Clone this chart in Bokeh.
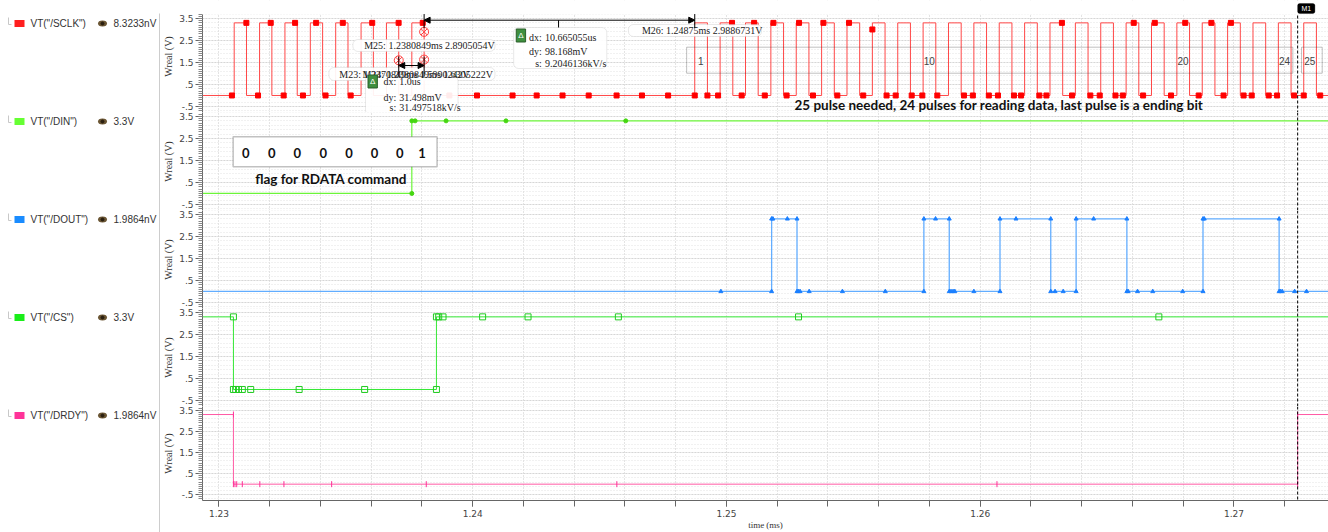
import numpy as np
from bokeh.plotting import figure
from bokeh.layouts import row, column
from bokeh.models import FixedTicker, Span, Label, BoxAnnotation, Arrow, NormalHead, Range1d
from bokeh.embed import file_html
from bokeh.resources import INLINE
from bokeh.core.properties import value

# ---------------- data ----------------
signal_names = ['VT("/SCLK")', 'VT("/DIN")', 'VT("/DOUT")', 'VT("/CS")', 'VT("/DRDY")']
cursor_readouts = ["8.3233nV", "3.3V", "1.9864nV", "3.3V", "1.9864nV"]
legend_colors = ["#ff1f1f", "#66ff33", "#1a8cff", "#19ee19", "#ff3399"]

y_ticks = [-0.5, 0.5, 1.5, 2.5, 3.5]
y_tick_labels = ["-.5", ".5", "1.5", "2.5", "3.5"]
x_ticks = [1.23, 1.24, 1.25, 1.26, 1.27]
x_tick_labels = ["1.23", "1.24", "1.25", "1.26", "1.27"]

v_low = 0.0
v_high = 3.3

# SCLK edges (ms)
sclk_rise = [1.2306, 1.2316, 1.2326, 1.2336, 1.2346, 1.2356, 1.2366, 1.2376,
             1.24875, 1.24975, 1.25075, 1.25175, 1.25275, 1.25375, 1.25475, 1.25575,
             1.25675, 1.25775, 1.25875, 1.25975, 1.26075, 1.26175, 1.26275, 1.26375,
             1.26475, 1.26575, 1.26675, 1.26775, 1.26875, 1.26975, 1.27075, 1.27175, 1.27275]
sclk_fall = [1.231085, 1.232085, 1.233085, 1.234085, 1.235085, 1.236085, 1.237085, 1.238085,
             1.24925, 1.25025, 1.25125, 1.25225, 1.25325, 1.25425, 1.25525, 1.25625,
             1.25725, 1.25825, 1.25925, 1.26025, 1.26125, 1.26225, 1.26325, 1.26425,
             1.26525, 1.26625, 1.26725, 1.26825, 1.26925, 1.27025, 1.27125, 1.27225, 1.27325]
sclk_low_pts = [1.23051, 1.23154, 1.23255, 1.23331, 1.23420, 1.23519,
                1.23908, 1.24017, 1.24157, 1.24252, 1.24354, 1.24457, 1.24567, 1.24667, 1.24770,
                1.24875, 1.24925, 1.24967, 1.25060, 1.25151, 1.25237, 1.25341, 1.25437, 1.25539,
                1.25631, 1.25667, 1.25730, 1.25772, 1.25831, 1.25936, 1.25971, 1.26034, 1.26070,
                1.26133, 1.26161, 1.26233, 1.26261, 1.26362, 1.26434, 1.26471, 1.26533, 1.26562,
                1.26642, 1.26752, 1.26861, 1.26959, 1.27038, 1.27070, 1.27137, 1.27170, 1.27237,
                1.27275, 1.27340]
sclk_high_pts = [1.23108, 1.23204, 1.23300, 1.23383, 1.23488, 1.23604, 1.23708, 1.23803,
                 1.25022, 1.25109, 1.25185, 1.25286, 1.25382, 1.25483, 1.26322, 1.26605,
                 1.26688, 1.26808, 1.26911, 1.26988]
sclk_mid_pts_t = [1.25575]
sclk_mid_pts_v = [3.0]

din_init = v_low
din_toggles = [1.2376]
din_low_pts = [1.2376]
din_high_pts = [1.2376, 1.23773, 1.23895, 1.24131, 1.24603]

dout_init = v_low
dout_toggles = [1.25178, 1.25278, 1.25778, 1.25878, 1.26078, 1.26278, 1.26378, 1.26578, 1.26878, 1.27178]
dout_low_pts = [1.24978, 1.25178, 1.25278, 1.25283, 1.25290, 1.25326, 1.25457, 1.25626, 1.25778,
                1.25878, 1.25885, 1.25893, 1.25900, 1.25975, 1.26078, 1.26278, 1.26295, 1.26327,
                1.26378, 1.26578, 1.26583, 1.26620, 1.26680, 1.26798, 1.26878, 1.27178, 1.27183,
                1.27190, 1.27239, 1.27286]
dout_high_pts = [1.25178, 1.25183, 1.25240, 1.25278, 1.25778, 1.25824, 1.25878, 1.26078, 1.26141,
                 1.26278, 1.26378, 1.26447, 1.26578, 1.26878, 1.26883, 1.27178]

cs_init = v_high
cs_toggles = [1.23057, 1.23857]
cs_low_pts = [1.23057, 1.23066, 1.23077, 1.23092, 1.23125, 1.23316, 1.23574, 1.23857]
cs_high_pts = [1.23057, 1.23857, 1.23866, 1.23883, 1.24039, 1.24218, 1.24574, 1.25284, 1.26704]

drdy_init = v_high
drdy_toggles = [1.23057, 1.27251]
drdy_low_pts = [1.23057, 1.23063, 1.23070, 1.23092, 1.23161, 1.23256, 1.23444, 1.23817,
                1.24568, 1.26066, 1.27251]
drdy_high_pts = [1.23057, 1.27251]

cursor_time = 1.27251

marker_names = ["M23", "M24", "M25", "M26"]
marker_t = [1.2370849, 1.2380849, 1.2380849, 1.24875]
marker_v = ["1.5990242", "1.6305222", "2.8905054", "2.9886731"]

delta_small = ["1.0us", "31.498mV", "31.497518kV/s"]
delta_big = ["10.665055us", "98.168mV", "9.2046136kV/s"]

command_bits = ["0", "0", "0", "0", "0", "0", "0", "1"]
command_bit_t = [1.231054, 1.232077, 1.233088, 1.234111, 1.235122, 1.236129, 1.237128, 1.238006]
pulse_numbers = [1, 10, 20, 24, 25]

# ---------------- layout constants ----------------
T0, T1 = 1.229351, 1.273726
Y0, Y1 = -0.774, 3.68
TOP_PAD = 14
Y1_TOP = Y1 + TOP_PAD / 22.0
PANEL_W = 1168
FRAME_H = 98
SERIF = "Liberation Serif"
SANS = "Liberation Sans"

minor_y = [round(-0.7 + 0.1 * i, 1) for i in range(45)]
grid_minor_y = [round(-0.7 + 0.2 * i, 1) for i in range(23)]
grid_x = [round(1.228 + 0.002 * i, 3) for i in range(24)]

x_range = Range1d(T0, T1)


def step(init, toggles, t0, t1):
    xs, ys = [t0], [init]
    lvl = init
    for t in toggles:
        nl = v_high if lvl == v_low else v_low
        xs += [t, t]
        ys += [lvl, nl]
        lvl = nl
    xs.append(t1)
    ys.append(lvl)
    return xs, ys


def make_panel(extra_top=0, bottom=0, with_x=False):
    ytop = Y1_TOP if extra_top else Y1
    p = figure(width=PANEL_W, height=FRAME_H + extra_top + bottom,
               x_range=x_range, y_range=Range1d(Y0, ytop),
               output_backend="svg", toolbar_location=None,
               x_axis_location="below" if with_x else None,
               min_border=0, min_border_left=40, min_border_right=0,
               min_border_top=0, min_border_bottom=bottom)
    p.outline_line_color = None
    ya = p.yaxis[0]
    ya.bounds = (Y0, Y1)
    ya.ticker = FixedTicker(ticks=y_ticks, minor_ticks=minor_y)
    ya.major_label_overrides = dict(zip(y_ticks, y_tick_labels))
    ya.axis_label = "Wreal (V)"
    ya.axis_label_text_font = SERIF
    ya.axis_label_text_font_size = "10px"
    ya.axis_label_text_font_style = "normal"
    ya.axis_label_text_color = "#333333"
    ya.axis_label_standoff = 2
    ya.major_label_text_font = "DejaVu Sans"
    ya.major_label_text_font_size = "9px"
    ya.major_label_text_color = "#444444"
    ya.major_label_standoff = 2
    ya.major_tick_out = 7
    ya.major_tick_in = 0
    ya.minor_tick_out = 4
    ya.minor_tick_in = 0
    ya.axis_line_color = "#666666"
    ya.major_tick_line_color = "#666666"
    ya.minor_tick_line_color = "#888888"

    p.xgrid.ticker = FixedTicker(ticks=grid_x)
    p.xgrid.grid_line_color = "#c8c8c8"
    p.xgrid.grid_line_dash = "1 2"
    p.ygrid.ticker = FixedTicker(ticks=y_ticks, minor_ticks=grid_minor_y)
    p.ygrid.grid_line_color = "#d6d6d6"
    p.ygrid.grid_line_dash = "2 1"
    p.ygrid.minor_grid_line_color = "#e2e2e2"
    p.ygrid.minor_grid_line_dash = "1 2"

    p.add_layout(Span(location=cursor_time, dimension="height", line_color="black",
                      line_dash="3 2", line_width=1))
    return p


p1 = make_panel(extra_top=TOP_PAD)
p2 = make_panel()
p3 = make_panel()
p4 = make_panel()
p5 = make_panel(bottom=28, with_x=True)

# blank strip above the first panel (covers grid), then the cursor tab
p1.add_layout(BoxAnnotation(bottom=Y1, top=Y1_TOP + 0.1, fill_color="white", fill_alpha=1,
                            line_color=None))
p1.add_layout(BoxAnnotation(left=cursor_time, right=cursor_time + 0.00068,
                            top=Y1_TOP - 3 / 22, bottom=Y1_TOP - 13 / 22, fill_color="black",
                            fill_alpha=1, line_color="black", border_radius=2))
p1.add_layout(Label(x=cursor_time + 0.00034, y=Y1_TOP - 8 / 22, text="M1", text_font=SANS,
                    text_font_size="7px", text_color="white", text_align="center",
                    text_baseline="middle"))

# ---- waveforms ----
xs, ys = step(v_low, sorted(sclk_rise + sclk_fall), T0 - 0.001, T1 + 0.001)
p1.line(xs, ys, line_color="#ff4747", line_width=1)
p1.scatter(sclk_low_pts, [v_low] * len(sclk_low_pts), marker="square", size=5, color="#ff0000")
p1.scatter(sclk_high_pts, [v_high] * len(sclk_high_pts), marker="square", size=5, color="#ff0000")
p1.scatter(sclk_mid_pts_t, sclk_mid_pts_v, marker="square", size=5, color="#ff0000")

xs, ys = step(din_init, din_toggles, T0 - 0.001, T1 + 0.001)
p2.line(xs, ys, line_color="#6cf53a", line_width=1.2)
p2.scatter(din_low_pts + din_high_pts,
           [v_low] * len(din_low_pts) + [v_high] * len(din_high_pts),
           marker="circle", size=4, color="#45d611")

xs, ys = step(dout_init, dout_toggles, T0 - 0.001, T1 + 0.001)
p3.line(xs, ys, line_color="#62adff", line_width=1.3)
p3.scatter(dout_low_pts + dout_high_pts,
           [v_low] * len(dout_low_pts) + [v_high] * len(dout_high_pts),
           marker="triangle", size=4, color="#1a7fff")

xs, ys = step(cs_init, cs_toggles, T0 - 0.001, T1 + 0.001)
p4.line(xs, ys, line_color="#33e833", line_width=1)
p4.scatter(cs_low_pts + cs_high_pts,
           [v_low] * len(cs_low_pts) + [v_high] * len(cs_high_pts),
           marker="square", size=6, fill_color=None, line_color="#22cc22")

xs, ys = step(drdy_init, drdy_toggles, T0 - 0.001, T1 + 0.001)
p5.line(xs, ys, line_color="#ff5aa5", line_width=1)
p5.scatter(drdy_low_pts + drdy_high_pts,
           [v_low] * len(drdy_low_pts) + [v_high] * len(drdy_high_pts),
           marker="dash", angle=np.pi / 2, size=6, line_color="#ff3399")

# ---- x axis of the bottom panel ----
xa = p5.xaxis[0]
xa.ticker = FixedTicker(ticks=x_ticks, minor_ticks=grid_x)
xa.major_label_overrides = dict(zip(x_ticks, x_tick_labels))
xa.major_label_text_font = "DejaVu Sans"
xa.major_label_text_font_size = "9px"
xa.major_label_text_color = "#444444"
xa.major_label_standoff = 3
xa.major_tick_out = 6
xa.major_tick_in = 0
xa.minor_tick_out = 6
xa.minor_tick_in = 0
xa.axis_line_color = "#666666"
xa.major_tick_line_color = "#666666"
xa.minor_tick_line_color = "#666666"
xa.axis_label = "time (ms)"
xa.axis_label_text_font = SERIF
xa.axis_label_text_font_size = "9px"
xa.axis_label_text_font_style = "normal"
xa.axis_label_text_color = "#333333"
xa.axis_label_standoff = 0

# ---- SCLK panel annotations ----
def tbox(p, l, r, t, b, radius=5):
    p.add_layout(BoxAnnotation(left=l, right=r, top=t, bottom=b, fill_color="white", fill_alpha=0.92,
                               line_color="#b5b5b5", line_width=1, border_radius=radius))


def txt(p, x, y, s, align="left", size="10px", font=SERIF, color="#222222", style="normal"):
    p.add_layout(Label(x=x, y=y, text=s, text_font=font, text_font_size=size, text_color=color,
                       text_align=align, text_baseline="middle", text_font_style=style))


def delta_badge(p, x, y):
    p.add_layout(Label(x=x, y=y, text="Δ", text_font=SANS, text_font_size="8px",
                       text_color="white", text_align="center", text_baseline="middle",
                       background_fill_color="#3f8f3f", border_line_color="#2a5f2a", padding=2))


def mlabel(i):
    return f"{marker_names[i]}: {marker_t[i]}ms {marker_v[i]}V"


# pulse group boxes
p1.add_layout(BoxAnnotation(left=1.248431, right=1.272321, top=2.194, bottom=1.012,
                            fill_alpha=0, line_color="#333333", line_width=1))
p1.add_layout(BoxAnnotation(left=1.272664, right=1.273478, top=2.194, bottom=1.012,
                            fill_alpha=0, line_color="#333333", line_width=1))
for n in pulse_numbers:
    t = sclk_rise[8 + n - 1] + 0.00024
    txt(p1, t, 1.56, str(n), align="center", size="10px", font=SANS, color="#444444")

# cursor markers
p1.scatter(marker_t[:3], [float(v) for v in marker_v[:3]], marker="circle_x", size=9,
           fill_color=None, line_color="#ff4040", line_width=1)

# M25 box
tbox(p1, 1.235279, 1.240877, 2.544, 2.0)
txt(p1, 1.235724, 2.271, mlabel(2))
# M23 / M24 box, then the small delta box under its texts
tbox(p1, 1.234335, 1.240877, 1.271, 0.68)
tbox(p1, 1.235775, 1.239422, 0.90, -0.9)
txt(p1, 1.234740, 0.975, mlabel(0))
txt(p1, 1.240799, 0.975, mlabel(1), align="right")
delta_badge(p1, 1.236058, 0.635)
for lab, val, yy in zip(["dx:", "dy:", "s:"], delta_small, [0.635, -0.093, -0.56]):
    txt(p1, 1.236983, yy, lab, align="right")
    txt(p1, 1.237101, yy, val)
# big delta box
tbox(p1, 1.241613, 1.245283, 3.089, 1.225)
delta_badge(p1, 1.241900, 2.725)
for lab, val, yy in zip(["dx:", "dy:", "s:"], delta_big, [2.635, 1.998, 1.453]):
    txt(p1, 1.242726, yy, lab, align="right")
    txt(p1, 1.242844, yy, val)
# M26 box
tbox(p1, 1.246137, 1.251381, 3.225, 2.68)
txt(p1, 1.246667, 2.953, mlabel(3))

# measurement arrows
def head():
    return NormalHead(size=6, fill_color="black", line_color="black")


p1.add_layout(Arrow(start=head(), end=head(), x_start=marker_t[2], y_start=3.421,
                    x_end=marker_t[3], y_end=3.421, line_color="black", line_width=1))
for t in [marker_t[2], marker_t[3]]:
    p1.add_layout(Arrow(end=None, x_start=t, y_start=3.70, x_end=t, y_end=3.06,
                        line_color="black", line_width=1))
p1.add_layout(Arrow(end=None, x_start=1.243383, y_start=3.421, x_end=1.243383, y_end=3.089,
                    line_color="black", line_width=1))
p1.add_layout(Arrow(start=head(), end=head(), x_start=marker_t[0], y_start=1.362,
                    x_end=marker_t[1], y_end=1.362, line_color="black", line_width=1))
for t in [marker_t[0], marker_t[1]]:
    p1.add_layout(Arrow(end=None, x_start=t, y_start=1.77, x_end=t, y_end=0.862,
                        line_color="black", line_width=1))

txt(p1, 1.252679, -0.44, "25 pulse needed, 24 pulses for reading data, last pulse is a ending bit",
    size="13.5px", font="Lato", color="#111111", style="bold")

# ---- DIN panel annotations ----
p2.add_layout(BoxAnnotation(left=1.230559, right=1.238596, top=2.575, bottom=1.212,
                            fill_color="white", fill_alpha=1, line_color="#333333", line_width=1.5))
for t, b in zip(command_bit_t, command_bits):
    txt(p2, t, 1.848, b, align="center", size="13px", font="Lato", color="#111111", style="bold")
txt(p2, 1.234422, 0.635, "flag for RDATA command", align="center", size="13.5px", font="Lato",
    color="#111111", style="bold")

# ---------------- legend column ----------------
legend_y = [23, 121, 219, 317, 415]
lg = figure(width=160, height=532, x_range=Range1d(0, 160), y_range=Range1d(532, 0),
            output_backend="svg", toolbar_location=None, min_border=0,
            x_axis_location=None, y_axis_location=None)
lg.outline_line_color = None
lg.grid.visible = False
lg.segment(x0=[8] * 5, y0=[y - 6 for y in legend_y], x1=[8] * 5, y1=[y + 1 for y in legend_y],
           line_color="#c8c8c8", line_width=1)
lg.segment(x0=[8] * 5, y0=[y + 1 for y in legend_y], x1=[11] * 5, y1=[y + 1 for y in legend_y],
           line_color="#c8c8c8", line_width=1)
lg.rect(x=[19] * 5, y=legend_y, width=10, height=7, fill_color=legend_colors, line_color=None)
lg.text(x=[30] * 5, y=legend_y, text=signal_names, text_baseline="middle",
        text_font=value(SANS), text_font_size="10px", text_color="#333333")
lg.ellipse(x=[102] * 5, y=legend_y, width=9, height=6, fill_color="#6b5634", line_color=None)
lg.scatter(x=[102] * 5, y=legend_y, size=3, color="#2a1f10")
lg.text(x=[113] * 5, y=legend_y, text=cursor_readouts, text_baseline="middle",
        text_font=value(SANS), text_font_size="10px", text_color="#333333")
lg.segment(x0=[159.5], y0=[13], x1=[159.5], y1=[532], line_color="#9a9a9a", line_width=1)

layout = row(lg, column(p1, p2, p3, p4, p5))
open("out.html", "w").write(file_html(layout, INLINE))
